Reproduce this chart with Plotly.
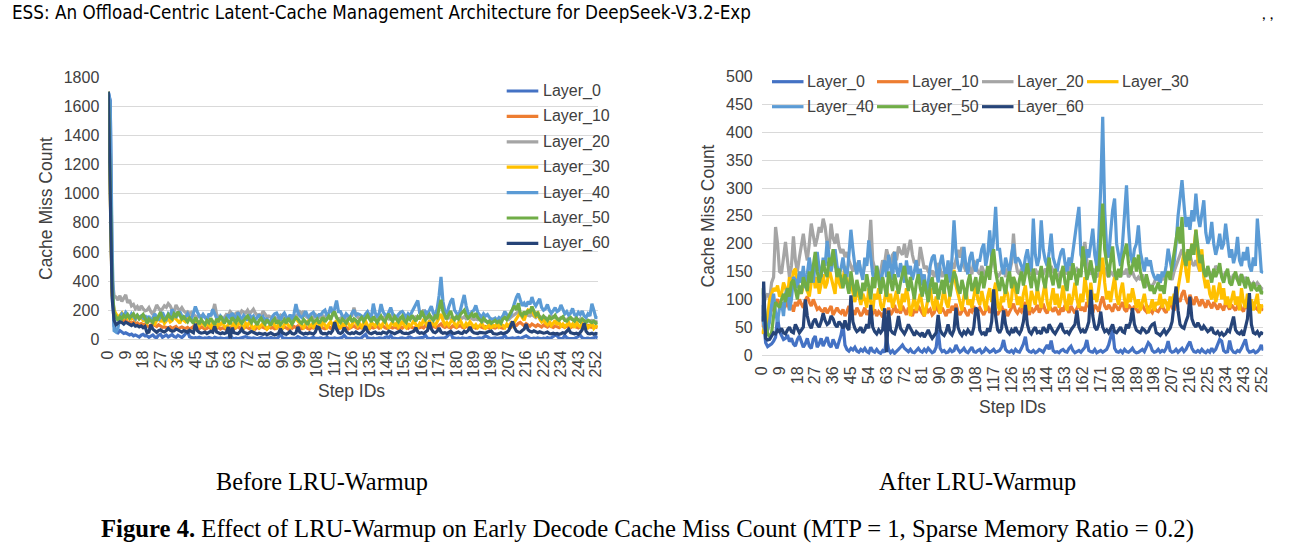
import plotly.graph_objects as go

# ---------------- data ----------------
steps = list(range(254))
tick_vals = list(range(0, 253, 9))
tick_text = [str(v) for v in tick_vals]

layer_names = ["Layer_0", "Layer_10", "Layer_20", "Layer_30", "Layer_40", "Layer_50", "Layer_60"]
layer_colors = ["#4472C4", "#ED7D31", "#A5A5A5", "#FFC000", "#5B9BD5", "#70AD47", "#264478"]

# After LRU-Warmup (right panel)
after_L0 = [
    90, 55, 22, 15, 18, 20, 25, 32, 68, 42,
    35, 28, 30, 36, 24, 30, 20, 16, 28, 34,
    24, 14, 20, 30, 16, 12, 28, 34, 14, 20,
    30, 16, 24, 32, 18, 14, 28, 20, 12, 24,
    36, 55, 18, 10, 7, 12, 9, 14, 7, 5,
    10, 7, 12, 6, 4, 14, 7, 5, 10, 5,
    3, 8, 5, 30, 10, 4, 8, 3, 6, 10,
    14, 18, 12, 8, 6, 10, 5, 4, 8, 12,
    7, 5, 10, 6, 12, 8, 4, 6, 14, 45,
    12, 6, 8, 4, 5, 10, 6, 8, 18, 10,
    5, 8, 12, 6, 4, 9, 14, 6, 5, 8,
    10, 4, 6, 12, 8, 5, 7, 10, 5, 6,
    8, 14, 27, 10, 6, 5, 8, 4, 10, 6,
    5, 12, 20, 33, 10, 6, 5, 8, 4, 6,
    10, 8, 5, 12, 18, 10, 26, 8, 5, 6,
    4, 8, 10, 6, 5, 12, 16, 8, 4, 6,
    8, 5, 10, 14, 27, 8, 6, 5, 10, 4,
    6, 8, 5, 7, 10, 18, 30, 45, 12, 6,
    5, 8, 4, 10, 6, 5, 8, 12, 6, 4,
    5, 8, 10, 6, 14, 22, 18, 8, 5, 6,
    10, 5, 8, 6, 12, 25, 8, 5, 6, 10,
    5, 8, 12, 6, 10, 18, 24, 12, 6, 5,
    8, 5, 10, 6, 4, 8, 5, 12, 6, 10,
    20, 28, 25, 8, 5, 6, 26, 10, 5, 4,
    8, 6, 12, 20, 28, 10, 5, 6, 8, 4,
    6, 10, 18, 8,
]
after_L10 = [
    50, 70, 60, 45, 70, 85, 80, 95, 100, 90,
    85, 92, 88, 95, 82, 90, 78, 95, 88, 100,
    92, 85, 98, 105, 95, 88, 100, 90, 82, 85,
    80, 78, 85, 75, 82, 88, 72, 80, 85, 78,
    75, 82, 70, 78, 88, 75, 80, 72, 85, 78,
    70, 76, 85, 72, 80, 68, 75, 82, 70, 78,
    74, 68, 80, 75, 85, 72, 78, 90, 76, 82,
    75, 88, 80, 72, 85, 78, 70, 82, 76, 88,
    80, 75, 70, 85, 78, 82, 72, 76, 90, 80,
    75, 85, 78, 70, 82, 76, 88, 80, 92, 78,
    72, 80, 85, 76, 70, 82, 78, 88, 75, 80,
    85, 78, 72, 80, 88, 76, 82, 95, 78, 72,
    80, 88, 76, 82, 70, 78, 85, 92, 80, 75,
    82, 78, 88, 95, 80, 72, 85, 78, 82, 90,
    76, 84, 92, 80, 75, 88, 82, 78, 86, 80,
    72, 85, 78, 90, 82, 76, 88, 80, 75, 84,
    92, 80, 86, 78, 95, 88, 80, 76, 90, 85,
    78, 95, 105, 88, 82, 90, 85, 78, 92, 86,
    80, 88, 95, 82, 78, 90, 85, 80, 88, 82,
    76, 85, 90, 82, 78, 88, 80, 76, 85, 80,
    78, 84, 90, 80, 76, 88, 95, 85, 80, 92,
    100, 96, 110, 116, 100, 92, 108, 98, 90, 105,
    95, 88, 100, 92, 85, 98, 90, 84, 95, 88,
    82, 92, 86, 80, 95, 88, 82, 90, 85, 80,
    88, 92, 84, 78, 90, 85, 80, 88, 95, 85,
    82, 90, 86, 80,
]
after_L20 = [
    60, 90, 105, 110, 100, 130, 140, 230, 200, 150,
    147, 180, 203, 170, 140, 160, 213, 170, 150, 175,
    200, 218, 190, 170, 200, 236, 215, 195, 210, 230,
    220, 245, 230, 200, 190, 236, 210, 200, 218, 195,
    183, 190, 176, 185, 170, 160, 150, 165, 158, 170,
    150, 145, 160, 165, 185, 243, 170, 155, 150, 140,
    150, 170, 165, 190, 175, 160, 180, 185, 170, 195,
    185, 180, 200, 175, 190, 207, 180, 165, 170, 160,
    194, 175, 155, 160, 150, 145, 152, 140, 150, 165,
    155, 140, 150, 145, 160, 150, 165, 155, 170, 189,
    175, 194, 160, 150, 165, 155, 145, 170, 160, 150,
    145, 160, 150, 140, 155, 150, 165, 175, 150, 140,
    145, 150, 160, 140, 155, 150, 165, 218, 170, 150,
    145, 155, 140, 150, 160, 145, 150, 140, 155, 145,
    150, 140, 145, 155, 150, 140, 160, 150, 145, 140,
    145, 150, 140, 155, 145, 150, 160, 145, 150, 155,
    150, 145, 180, 203, 170, 150, 145, 155, 150, 140,
    145, 150, 160, 155, 145, 140, 150, 145, 140, 150,
    145, 140, 150, 145, 155, 140, 145, 150, 140, 135,
    140, 135, 145, 130, 125, 130, 120, 125, 130, 140,
    135, 130, 140, 135, 145, 150, 140, 135, 150, 160,
    170, 180, 190, 175, 160, 170, 180, 165, 160, 170,
    160, 150, 165, 155, 150, 145, 150, 140, 145, 160,
    155, 150, 145, 140, 150, 145, 140, 135, 145, 140,
    135, 140, 145, 130, 140, 135, 130, 125, 130, 125,
    130, 125, 120, 118,
]
after_L30 = [
    38, 45, 55, 70, 100, 110, 120, 115, 125, 105,
    110, 130, 120, 105, 140, 125, 150, 155, 130, 120,
    110, 125, 140, 115, 105, 130, 150, 120, 140, 110,
    125, 145, 120, 130, 155, 140, 125, 110, 150, 130,
    120, 135, 160, 140, 115, 130, 110, 95, 120, 105,
    90, 110, 100, 85, 120, 95, 80, 110, 100, 120,
    90, 80, 105, 120, 95, 110, 85, 100, 115, 95,
    80, 110, 95, 120, 100, 70, 90, 105, 80, 95,
    110, 90, 70, 85, 100, 120, 95, 80, 105, 90,
    75, 100, 120, 95, 85, 110, 130, 153, 125, 110,
    95, 80, 105, 120, 90, 100, 85, 110, 125, 100,
    90, 115, 100, 80, 105, 120, 95, 110, 130, 90,
    80, 105, 95, 120, 110, 85, 100, 140, 115, 90,
    105, 85, 110, 125, 95, 80, 115, 100, 90, 120,
    105, 85, 110, 130, 95, 80, 100, 120, 90, 110,
    85, 100, 125, 95, 80, 110, 90, 105, 130, 100,
    85, 110, 95, 140, 115, 90, 130, 100, 110, 95,
    120, 145, 175, 130, 100, 115, 95, 120, 140, 105,
    90, 115, 130, 100, 85, 110, 95, 120, 105, 85,
    100, 80, 95, 110, 90, 75, 85, 100, 80, 95,
    90, 110, 85, 100, 95, 80, 105, 90, 110, 95,
    120, 140, 165, 185, 150, 130, 175, 200, 190, 225,
    170, 150, 190, 140, 120, 135, 110, 100, 125, 95,
    110, 130, 100, 120, 90, 105, 85, 100, 115, 90,
    105, 80, 120, 95, 85, 110, 90, 100, 80, 95,
    110, 75, 90, 85,
]
after_L40 = [
    70, 55, 40, 45, 60, 90, 110, 75, 60, 85,
    95, 70, 110, 120, 80, 100, 140, 135, 120, 150,
    130, 160, 120, 145, 175, 150, 130, 165, 185, 155,
    140, 175, 160, 205, 180, 150, 170, 190, 160, 145,
    155, 175, 150, 140, 180, 225, 190, 160, 145, 170,
    150, 135, 175, 160, 206, 170, 145, 130, 160, 145,
    125, 150, 170, 140, 180, 160, 135, 185, 155, 140,
    165, 150, 130, 170, 145, 160, 135, 150, 170, 140,
    155, 125, 145, 110, 130, 160, 175, 180, 150, 130,
    165, 180, 155, 140, 170, 130, 175, 242, 185, 160,
    150, 165, 194, 160, 145, 175, 185, 160, 150, 170,
    170, 190, 200, 160, 180, 224, 175, 210, 266, 190,
    190, 160, 145, 175, 160, 150, 180, 200, 165, 175,
    170, 160, 150, 175, 190, 165, 150, 245, 180, 160,
    175, 242, 190, 170, 160, 185, 218, 175, 160, 150,
    170, 185, 191, 165, 150, 175, 160, 190, 210, 240,
    266, 180, 170, 160, 190, 175, 200, 227, 180, 160,
    210, 300, 428, 260, 190, 175, 220, 260, 281, 200,
    180, 160, 200, 250, 305, 230, 180, 165, 190, 200,
    233, 185, 165, 150, 175, 160, 170, 150, 140, 135,
    145, 130, 150, 140, 160, 191, 170, 150, 165, 200,
    250, 290, 314, 270, 230, 248, 225, 260, 240, 290,
    250, 230, 260, 278, 220, 200, 210, 239, 200, 180,
    195, 218, 190, 200, 236, 205, 175, 190, 165, 180,
    212, 170, 160, 185, 170, 194, 160, 150, 175, 160,
    245, 200, 150, 148,
]
after_L50 = [
    120, 100, 60, 38, 33, 40, 70, 95, 90, 85,
    100, 110, 95, 120, 105, 130, 135, 115, 100, 125,
    110, 140, 125, 115, 150, 130, 160, 185, 150, 130,
    145, 170, 150, 140, 175, 160, 190, 165, 140, 155,
    135, 120, 145, 130, 110, 150, 125, 105, 135, 120,
    100, 130, 115, 145, 125, 100, 140, 120, 160, 130,
    110, 140, 125, 105, 150, 135, 115, 145, 125, 110,
    130, 145, 160, 135, 115, 140, 120, 100, 130, 145,
    120, 105, 135, 115, 95, 125, 140, 110, 130, 100,
    120, 135, 110, 145, 125, 105, 130, 150, 140, 120,
    110, 135, 120, 100, 130, 145, 115, 125, 140, 110,
    130, 150, 120, 140, 160, 135, 175, 190, 150, 130,
    115, 140, 125, 110, 135, 150, 120, 140, 130, 110,
    135, 150, 125, 145, 165, 140, 120, 155, 130, 115,
    140, 160, 135, 120, 150, 175, 140, 125, 155, 135,
    120, 145, 160, 130, 115, 150, 135, 165, 145, 125,
    155, 140, 195, 160, 135, 150, 170, 145, 130, 160,
    150, 210, 272, 190, 160, 140, 170, 195, 150, 135,
    155, 140, 170, 185, 200, 165, 145, 160, 175, 150,
    180, 150, 135, 120, 145, 130, 115, 125, 110, 120,
    130, 115, 125, 110, 140, 150, 135, 160, 185, 210,
    230, 200, 248, 175, 160, 190, 170, 200, 180, 225,
    195, 165, 180, 150, 140, 160, 145, 130, 155, 140,
    150, 165, 140, 130, 145, 155, 130, 125, 140, 150,
    135, 125, 145, 130, 120, 140, 125, 115, 130, 120,
    115, 125, 110, 115,
]
after_L60 = [
    60, 132, 30, 27, 28, 35, 40, 38, 45, 42,
    48, 40, 38, 45, 50, 42, 40, 55, 48, 40,
    45, 50, 100, 70, 55, 48, 60, 65, 55, 50,
    60, 75, 62, 55, 58, 70, 65, 55, 50, 60,
    55, 48, 62, 50, 45, 107, 60, 48, 42, 45,
    50, 40, 45, 55, 48, 90, 50, 42, 38, 45,
    40, 45, 84, 5, 80, 45, 40, 38, 50, 70,
    48, 42, 38, 45, 55, 48, 40, 35, 42, 38,
    35, 40, 32, 38, 45, 36, 30, 35, 40, 72,
    45, 38, 35, 42, 55, 40, 36, 45, 85, 50,
    40, 35, 42, 38, 45, 40, 36, 50, 85, 80,
    45, 38, 40, 35, 48, 42, 60, 118, 70, 45,
    40, 48, 80, 55, 42, 38, 45, 40, 50, 42,
    38, 45, 60, 90, 55, 42, 38, 45, 50, 40,
    42, 38, 50, 45, 40, 55, 48, 42, 38, 45,
    50, 57, 45, 40, 42, 38, 45, 50, 55, 80,
    50, 42, 45, 40, 48, 60, 117, 70, 50, 45,
    55, 78, 50, 42, 45, 40, 48, 55, 42, 40,
    45, 50, 42, 40, 55, 48, 60, 84, 55, 45,
    42, 40, 48, 45, 40, 42, 50, 55, 57, 40,
    38, 35, 40, 45, 38, 42, 48, 60, 90, 123,
    80, 55, 50, 48, 60, 70, 105, 65, 55, 50,
    58, 50, 45, 52, 48, 42, 45, 50, 40, 38,
    42, 36, 40, 35, 38, 45, 42, 55, 69, 45,
    40, 38, 42, 35, 48, 65, 111, 55, 40, 38,
    42, 35, 40, 38,
]

# Before LRU-Warmup (left panel): the first 20 steps differ, later steps match
before_head_L0 = [1700, 1640, 380, 90, 55, 45, 60, 50, 40, 45, 35, 30, 36, 24, 30, 20, 16, 28, 34, 24]
before_head_L10 = [1700, 950, 320, 170, 150, 140, 120, 135, 125, 130, 115, 120, 110, 118, 105, 112, 100, 108, 100, 105]
before_head_L20 = [1700, 1100, 420, 300, 290, 270, 300, 260, 280, 305, 250, 270, 230, 240, 210, 225, 200, 230, 210, 195]
before_head_L30 = [1700, 900, 300, 200, 170, 150, 165, 180, 150, 160, 145, 155, 140, 150, 135, 160, 145, 150, 130, 140]
before_head_L40 = [1700, 1630, 600, 60, 50, 80, 150, 175, 160, 185, 165, 150, 175, 160, 140, 165, 150, 160, 145, 165]
before_head_L50 = [1700, 1000, 350, 180, 150, 130, 155, 140, 165, 150, 170, 145, 160, 175, 150, 165, 140, 155, 170, 145]
before_head_L60 = [1700, 1000, 280, 130, 100, 110, 120, 115, 105, 118, 110, 100, 95, 105, 90, 95, 85, 92, 80, 88]

after_series = [after_L0, after_L10, after_L20, after_L30, after_L40, after_L50, after_L60]
before_heads = [before_head_L0, before_head_L10, before_head_L20, before_head_L30,
                before_head_L40, before_head_L50, before_head_L60]
before_series = [h + a[len(h):] for h, a in zip(before_heads, after_series)]

for nm, s in zip(layer_names, after_series):
    if len(s) != len(steps):
        raise ValueError(f"{nm} has {len(s)} values")

# ---------------- figure ----------------
W, H = 1300, 545


def fx(x):
    return x / W


def fy(y):
    return (H - y) / H


SANS = "Liberation Sans, Arial, sans-serif"
SERIF = "Liberation Serif, Times New Roman, serif"
TXT = "#404040"
GRID = "#D9D9D9"
LW = 3.2

fig = go.Figure()
for nm, col, vals in zip(layer_names, layer_colors, before_series):
    fig.add_trace(go.Scatter(x=steps, y=vals, mode="lines", name=nm,
                             line=dict(color=col, width=LW),
                             xaxis="x", yaxis="y", showlegend=False))
for nm, col, vals in zip(layer_names, layer_colors, after_series):
    fig.add_trace(go.Scatter(x=steps, y=vals, mode="lines", name=nm,
                             line=dict(color=col, width=LW),
                             xaxis="x2", yaxis="y2", showlegend=False))

xcommon = dict(tickmode="array", tickvals=tick_vals, ticktext=tick_text, tickangle=-90,
               showgrid=False, zeroline=False, showline=True, linecolor=GRID, linewidth=1,
               ticks="", tickfont=dict(family=SANS, size=16, color=TXT), ticklabelstandoff=4,
               range=[0, 253], fixedrange=True, automargin=False)
ycommon = dict(showgrid=True, gridcolor=GRID, gridwidth=1, zeroline=False, showline=False,
               ticks="", tickfont=dict(family=SANS, size=16, color=TXT), ticklabelstandoff=8,
               fixedrange=True, automargin=False)

fig.update_layout(
    width=W, height=H,
    margin=dict(l=0, r=0, t=0, b=0, pad=0, autoexpand=False),
    paper_bgcolor="white", plot_bgcolor="white",
    showlegend=False,
    xaxis=dict(domain=[fx(108.3), fx(597.7)], anchor="y", **xcommon),
    yaxis=dict(domain=[fy(339.3), fy(77.3)], anchor="x", range=[0, 1800], dtick=200, **ycommon),
    xaxis2=dict(domain=[fx(761.7), fx(1263.3)], anchor="y2", **xcommon),
    yaxis2=dict(domain=[fy(355), fy(76.7)], anchor="x2", range=[0, 500], dtick=50, **ycommon),
)

ann = []
shapes = []


def text(x, y, s, size, family=SANS, color=TXT, xanchor="center", yanchor="middle", angle=0):
    ann.append(dict(x=fx(x), y=fy(y), xref="paper", yref="paper", text=s, showarrow=False,
                    xanchor=xanchor, yanchor=yanchor, textangle=angle,
                    font=dict(family=family, size=size, color=color)))


# axis titles
text(45.5, 208.5, "Cache Miss Count", 17.5, angle=-90)
text(707, 216.5, "Cache Miss Count", 17.5, angle=-90)
text(351, 391, "Step IDs", 17.5)
text(1012, 407, "Step IDs", 17.5)

# legends (drawn)
for i, (nm, col) in enumerate(zip(layer_names, layer_colors)):
    yy = 91 + i * 25.4
    shapes.append(dict(type="line", xref="paper", yref="paper", x0=fx(506.7), x1=fx(538.3),
                       y0=fy(yy), y1=fy(yy), line=dict(color=col, width=LW)))
    text(541, yy, nm, 16, xanchor="left")

cols_x = [772, 877, 982, 1087]
rows_y = [81.7, 106.7]
for i, (nm, col) in enumerate(zip(layer_names, layer_colors)):
    r, c = divmod(i, 4)
    x0 = cols_x[c]
    yy = rows_y[r]
    shapes.append(dict(type="line", xref="paper", yref="paper", x0=fx(x0), x1=fx(x0 + 31.5),
                       y0=fy(yy), y1=fy(yy), line=dict(color=col, width=LW)))
    text(x0 + 32.5, yy, nm, 16, xanchor="left")

# page texts
text(10, 12, "ESS: An Offload-Centric Latent-Cache Management Architecture for DeepSeek-V3.2-Exp", 18.7,
     family="Liberation Sans Narrow, DejaVu Sans Condensed, Lato, sans-serif", color="#000000", xanchor="left")
text(1267, 12, ", ,", 16, family="Lato, sans-serif", color="#000000")
text(322, 482, "Before LRU-Warmup", 24.3, family=SERIF, color="#000000")
text(977.5, 482, "After LRU-Warmup", 24.3, family=SERIF, color="#000000")
text(647.5, 545, "<b>Figure 4.</b> Effect of LRU-Warmup on Early Decode Cache Miss Count (MTP = 1, Sparse Memory Ratio = 0.2)",
     24.7, family=SERIF, color="#000000", yanchor="bottom")

fig.update_layout(annotations=ann, shapes=shapes)
fig.write_html("out.html")
